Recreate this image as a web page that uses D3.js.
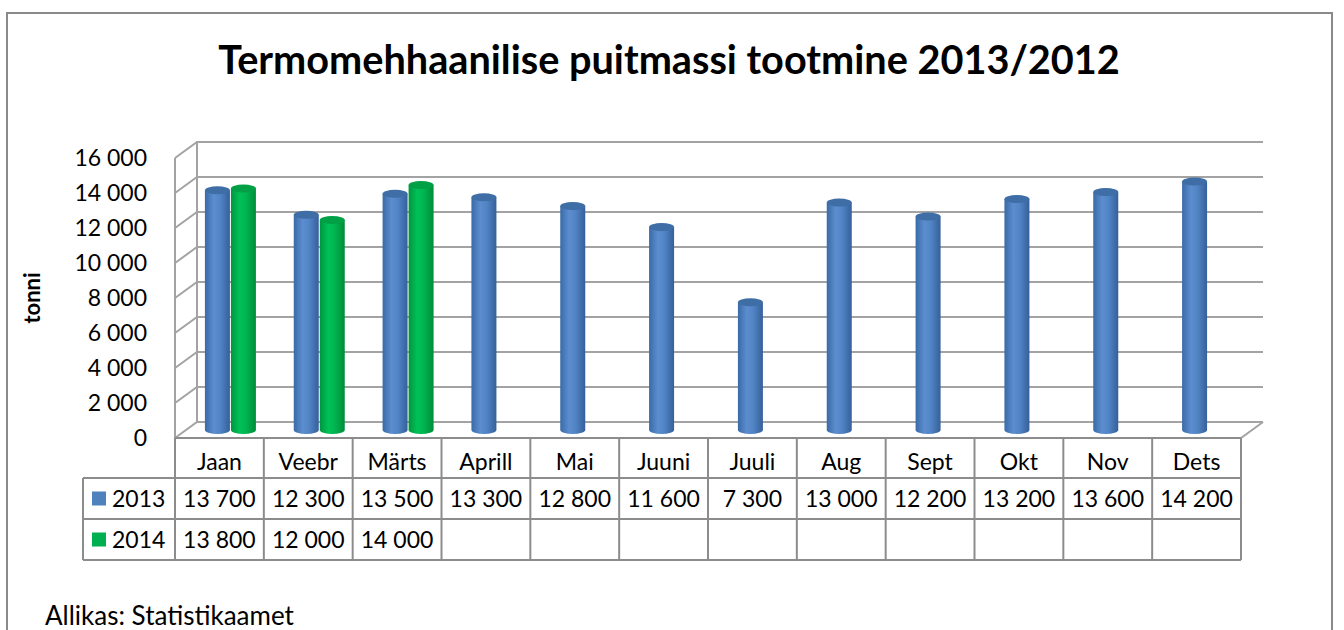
<!DOCTYPE html>
<html>
<head>
<meta charset="utf-8">
<script src="https://cdn.jsdelivr.net/npm/d3@7"></script>
<style>
  body { margin: 0; background: #fff; }
  svg { display: block; font-family: Lato, "Open Sans", sans-serif; }
</style>
</head>
<body>
<svg id="chart" width="1344" height="630"></svg>
<script>
// monthly production, tonnes
const months = ["Jaan","Veebr","Märts","Aprill","Mai","Juuni","Juuli","Aug","Sept","Okt","Nov","Dets"];
const v2013 = [13700,12300,13500,13300,12800,11600,7300,13000,12200,13200,13600,14200];
const v2014 = [13800,12000,14000,null,null,null,null,null,null,null,null,null];
const yTicks = [0,2000,4000,6000,8000,10000,12000,14000,16000];

const svg = d3.select("#chart");

// 3D depth shift of back wall
const DX = 22, DY = -16;
const FS = 23;

const x = d3.scaleBand().domain(months).range([175, 1241]);
const y = d3.scaleLinear().domain([0, 16000]).range([438, 158]);
const fmt = d3.formatLocale({ decimal: ",", thousands: " ", grouping: [3], currency: ["", ""] }).format(",d");

// outer frame
svg.append("rect").attr("x", 7).attr("y", 13).attr("width", 1325).attr("height", 640)
  .attr("fill", "#fff").attr("stroke", "#8a8a8a").attr("stroke-width", 2);

// title, fitted to the original width
const title = svg.append("text").attr("x", 669).attr("y", 74).attr("text-anchor", "middle")
  .attr("font-weight", 700).attr("font-size", 34).attr("fill", "#000")
  .text("Termomehhaanilise puitmassi tootmine 2013/2012");
title.attr("font-size", 34 * 902 / title.node().getComputedTextLength());

// gradients for cylinders
const defs = svg.append("defs");
function grad(id, stops) {
  const g = defs.append("linearGradient").attr("id", id).attr("x1", 0).attr("x2", 1).attr("y1", 0).attr("y2", 0);
  stops.forEach(([o, c]) => g.append("stop").attr("offset", o).attr("stop-color", c));
}
grad("gBlue", [[0, "#3a6aa6"], [0.35, "#5b8dcf"], [0.6, "#5285c6"], [1, "#35609a"]]);
grad("gGreen", [[0, "#00963f"], [0.35, "#00c157"], [0.6, "#00b550"], [1, "#008c3b"]]);
const topColor = { gBlue: "#3f6da5", gGreen: "#00a046" };

// walls and gridlines
const grid = svg.append("g").attr("stroke", "#a3a3a3").attr("stroke-width", 2).attr("fill", "none");
const x0 = x.range()[0], x1 = x.range()[1];
grid.append("line").attr("x1", x0).attr("x2", x0).attr("y1", y(16000)).attr("y2", y(0));
yTicks.forEach(t => {
  grid.append("polyline").attr("points",
    `${x0},${y(t)} ${x0 + DX},${y(t) + DY} ${x1 + DX},${y(t) + DY}`);
});
grid.append("line").attr("x1", x0 + DX).attr("x2", x0 + DX).attr("y1", y(16000) + DY).attr("y2", y(0) + DY);
// floor front edge
grid.append("polyline").attr("points", `${x0},${y(0)} ${x1},${y(0)} ${x1 + DX},${y(0) + DY}`);

// y axis labels
svg.append("g").selectAll("text").data(yTicks).join("text")
  .attr("x", 147).attr("y", d => y(d)).attr("dy", "0.35em").attr("text-anchor", "end")
  .attr("font-size", FS).attr("fill", "#000").text(d => fmt(d));

svg.append("text").attr("transform", "translate(40,298) rotate(-90)").attr("text-anchor", "middle")
  .attr("font-size", 22).attr("font-weight", 700).text("tonni");

// cylinders
const bw = 25, rx = bw / 2, ry = 4;
const series = [
  { name: "2013", values: v2013, g: "gBlue", key: "#4f81bd", off: -13 },
  { name: "2014", values: v2014, g: "gGreen", key: "#00b050", off: 13 }
];
const bars = svg.append("g");
series.forEach(s => {
  const pts = months.map((m, i) => ({ m, v: s.values[i] })).filter(d => d.v != null);
  const g = bars.selectAll(null).data(pts).join("g")
    .attr("transform", d => `translate(${x(d.m) + x.bandwidth() / 2 + DX / 2 + s.off},${DY / 2})`);
  g.append("path")
    .attr("d", d => {
      const yt = y(d.v), yb = y(0);
      return `M${-rx},${yt} L${-rx},${yb} A${rx},${ry} 0 0 0 ${rx},${yb} L${rx},${yt} Z`;
    })
    .attr("fill", `url(#${s.g})`);
  g.append("ellipse").attr("cx", 0).attr("cy", d => y(d.v)).attr("rx", rx).attr("ry", ry)
    .attr("fill", topColor[s.g]);
});

// data table
const tbl = svg.append("g");
const rowY = [438, 478, 519, 560];
const tl = tbl.append("g").attr("stroke", "#8c8c8c").attr("stroke-width", 2);
tl.append("line").attr("x1", x0).attr("x2", x1).attr("y1", rowY[0]).attr("y2", rowY[0]);
[1, 2, 3].forEach(r => tl.append("line").attr("x1", 83).attr("x2", x1).attr("y1", rowY[r]).attr("y2", rowY[r]));
tl.append("line").attr("x1", 83).attr("x2", 83).attr("y1", rowY[1]).attr("y2", rowY[3]);
months.map(m => x(m)).concat([x1]).forEach(xx => {
  tl.append("line").attr("x1", xx).attr("x2", xx).attr("y1", rowY[0]).attr("y2", rowY[3]);
});

tbl.selectAll(".mh").data(months).join("text")
  .attr("x", d => x(d) + x.bandwidth() / 2).attr("y", (rowY[0] + rowY[1]) / 2 + 3).attr("dy", "0.38em")
  .attr("text-anchor", "middle").attr("font-size", FS).text(d => d);

series.forEach((s, r) => {
  const cy = (rowY[r + 1] + rowY[r + 2]) / 2;
  tbl.append("rect").attr("x", 92).attr("y", cy - 7).attr("width", 14).attr("height", 14).attr("fill", s.key);
  tbl.append("text").attr("x", 112).attr("y", cy).attr("dy", "0.38em").attr("font-size", FS).text(s.name);
  tbl.selectAll(null).data(months.map((m, i) => ({ m, v: s.values[i] })).filter(d => d.v != null)).join("text")
    .attr("x", d => x(d.m) + x.bandwidth() / 2).attr("y", cy).attr("dy", "0.38em")
    .attr("text-anchor", "middle").attr("font-size", FS).text(d => fmt(d.v));
});

svg.append("text").attr("x", 45).attr("y", 625).attr("font-size", 26).text("Allikas: Statistikaamet");
</script>
</body>
</html>
